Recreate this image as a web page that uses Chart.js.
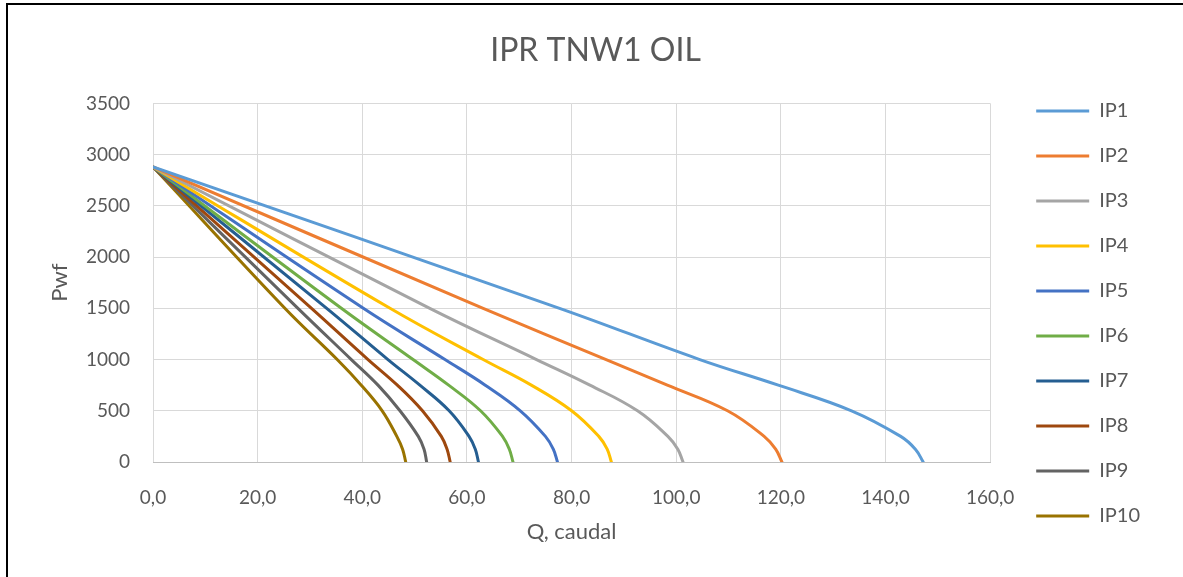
<!DOCTYPE html>
<html>
<head>
<meta charset="utf-8">
<script src="https://cdn.jsdelivr.net/npm/chart.js"></script>
<style>
  html, body { margin: 0; padding: 0; background: #fff; }
  #frame {
    position: absolute; left: 6px; top: 3px;
    border-left: 2px solid #000; border-top: 2px solid #000;
    width: 1175px; height: 572px;
  }
  #box { position: relative; width: 1175px; height: 572px; }
</style>
</head>
<body>
<div id="frame"><div id="box"><canvas id="ipr"></canvas></div></div>
<script>
// presion de fondo fluyente (psi) y caudal leido para cada curva
const pwf = [2880, 1500, 1000, 750, 500, 250, 125, 0];
const ip1 = [0, 77.7, 104.5, 119.5, 133.5, 142.9, 145.7, 147.2];
const ip2 = [0, 63.1, 86.6, 98.3, 109.8, 116.8, 119.0, 120.2];
const ip3 = [0, 52.9, 73.3, 83.5, 92.6, 98.4, 100.3, 101.3];
const ip4 = [0, 45.3, 63.1, 72.3, 80.0, 85.2, 86.8, 87.6];
const ip5 = [0, 40.2, 55.8, 63.5, 70.2, 75.0, 76.5, 77.3];
const ip6 = [0, 36.0, 49.7, 56.5, 62.6, 66.8, 68.1, 68.8];
const ip7 = [0, 33.2, 44.9, 51.0, 56.6, 60.4, 61.6, 62.2];
const ip8 = [0, 30.3, 41.1, 46.7, 51.5, 55.1, 56.2, 56.8];
const ip9 = [0, 27.7, 37.9, 43.0, 47.2, 50.7, 51.8, 52.3];
const ip10 = [0, 25.2, 35.2, 39.8, 43.8, 46.6, 47.7, 48.3];

const seriesNames = ["IP1", "IP2", "IP3", "IP4", "IP5", "IP6", "IP7", "IP8", "IP9", "IP10"];
const seriesQ = [ip1, ip2, ip3, ip4, ip5, ip6, ip7, ip8, ip9, ip10];
const colors = ["#5B9BD5", "#ED7D31", "#A5A5A5", "#FFC000", "#4472C4",
                "#70AD47", "#255E91", "#9E480E", "#636363", "#997300"];

const txt = "#595959";
const fam = "Lato, 'Open Sans', sans-serif";

const datasets = seriesNames.map((name, i) => ({
    label: name,
    data: seriesQ[i].map((q, k) => ({x: q, y: pwf[k]})),
    borderColor: colors[i],
    backgroundColor: colors[i],
    borderWidth: 3,
    borderCapStyle: "round",
    pointRadius: 0,
    pointHoverRadius: 0,
    tension: 0.4,
    fill: false
}));

// ejes invisibles solo para separar la leyenda del area de trazado
const spacer = (w, weight) => ({
    type: "linear",
    position: "right",
    display: true,
    weight: weight,
    grid: {display: false, drawOnChartArea: false},
    ticks: {display: false},
    border: {display: false},
    afterFit: s => { s.width = w; }
});

new Chart(document.getElementById("ipr"), {
    type: "line",
    data: {datasets: datasets},
    options: {
        responsive: true,
        maintainAspectRatio: false,
        animation: false,
        layout: {padding: 0},
        plugins: {
            title: {
                display: true,
                text: "IPR TNW1 OIL",
                color: txt,
                font: {family: fam, size: 32, weight: "normal"},
                padding: {top: 26, bottom: 34}
            },
            legend: {
                position: "right",
                title: {display: true, text: " ", font: {size: 10}, padding: 16.5},
                labels: {
                    usePointStyle: true,
                    pointStyle: "line",
                    pointStyleWidth: 53,
                    padding: 25,
                    color: txt,
                    font: {family: fam, size: 20}
                }
            },
            tooltip: {enabled: false}
        },
        scales: {
            x: {
                type: "linear",
                min: 0, max: 160,
                ticks: {
                    stepSize: 20,
                    padding: 24,
                    color: txt,
                    font: {family: fam, size: 19},
                    maxRotation: 0,
                    callback: v => v.toFixed(1).replace(".", ",")
                },
                grid: {color: "#D9D9D9", drawTicks: false},
                border: {color: "#BFBFBF", width: 1},
                title: {
                    display: true, text: "Q, caudal", color: txt,
                    font: {family: fam, size: 22},
                    padding: {top: 0, bottom: 32}
                },
                afterFit: s => { s.height = 115; }
            },
            y: {
                type: "linear",
                min: 0, max: 3500,
                ticks: {
                    stepSize: 500,
                    padding: 23,
                    color: txt,
                    font: {family: fam, size: 19},
                    callback: v => String(v)
                },
                grid: {color: "#D9D9D9", drawTicks: false},
                border: {display: false},
                title: {
                    display: true, text: "Pwf", color: txt,
                    font: {family: fam, size: 22},
                    padding: {top: 39, bottom: 0}
                },
                afterFit: s => { s.width = 145; }
            },
            gap: spacer(21, 0),
            edge: spacer(33, 2000)
        }
    }
});
</script>
</body>
</html>
